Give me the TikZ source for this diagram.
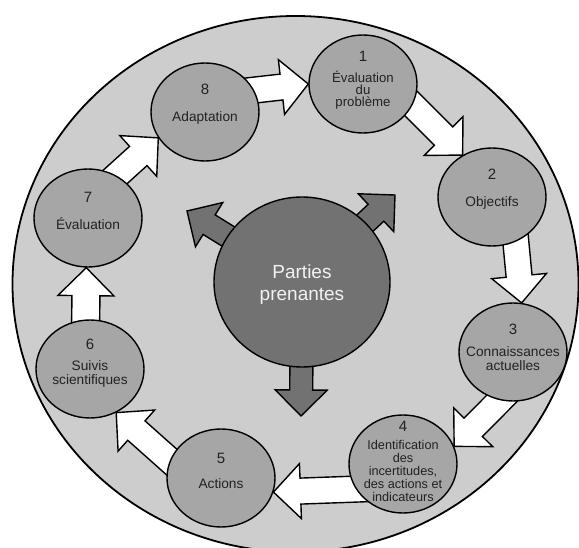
\documentclass[tikz,border=0pt]{standalone}
\usepackage{fontspec}
\setmainfont{Liberation Sans}
\usetikzlibrary{shapes.geometric,calc}
\definecolor{bgfill}{HTML}{CDCDCD}
\definecolor{stepfill}{HTML}{A6A6A6}
\definecolor{hubfill}{HTML}{727272}
\definecolor{inktext}{HTML}{222222}
\pgfdeclarelayer{backdrop}
\pgfdeclarelayer{arrows}
\pgfsetlayers{backdrop,arrows,main}
% #1 style, #2 from, #3 to, #4 half shaft, #5 half head, #6 head length
\newcommand\blockarrow[6]{%
  \path (#2) coordinate (baS) (#3) coordinate (baE);
  \path ($(baS)!-30pt!(baE)$) coordinate (baT) ($(baE)!#6!(baS)$) coordinate (baN);
  \draw[#1] ($(baT)!#4!90:(baE)$) -- ($(baN)!#4!90:(baE)$) -- ($(baN)!#5!90:(baE)$)
    -- (baE) -- ($(baN)!#5!-90:(baE)$) -- ($(baN)!#4!-90:(baE)$)
    -- ($(baT)!#4!-90:(baE)$) -- cycle;}
\begin{document}
\begin{tikzpicture}[x=1pt,y=-1pt,
  stepnode/.style={ellipse, draw=black, line width=1.4pt, fill=stepfill,
    minimum width=108pt, minimum height=98pt, inner sep=0pt},
  numtext/.style={font=\fontsize{15}{15}\selectfont, text=inktext, inner sep=0pt},
  lbltext/.style={font=\fontsize{13.7}{12.5}\selectfont, align=center, text=inktext, inner sep=0pt},
  whitearrow/.style={draw=black, line width=1.4pt, fill=white, line join=miter},
  hubarrow/.style={draw=black, line width=1.4pt, fill=hubfill, line join=miter}]
\useasboundingbox (0,0) rectangle (579,548);
\begin{pgfonlayer}{backdrop}
\node[ellipse, draw=black, line width=1.8pt, fill=bgfill, minimum width=566pt,
  minimum height=536pt, inner sep=0pt] (outer) at (295.5,284) {};
\end{pgfonlayer}
% steps
\node[stepnode] (c1) at (363,84) {};
\node[stepnode] (c2) at (492,197) {};
\node[stepnode] (c3) at (513,352) {};
\node[stepnode] (c4) at (403,464) {};
\node[stepnode] (c5) at (221,478) {};
\node[stepnode] (c6) at (90,369) {};
\node[stepnode] (c7) at (88,218) {};
\node[stepnode] (c8) at (205,112) {};
\node[ellipse, draw=black, line width=1.4pt, fill=hubfill, minimum width=176pt,
  minimum height=170pt, inner sep=0pt] (hub) at (302,282) {};
\coordinate (tUL) at (187,211);
\coordinate (tUR) at (395,195);
\coordinate (tD) at (301,416);
\begin{pgfonlayer}{arrows}
\blockarrow{whitearrow}{c8.24}{c1.180}{13pt}{27.5pt}{27pt}
\blockarrow{whitearrow}{c1.-23}{c2.125}{13pt}{27.5pt}{27pt}
\blockarrow{whitearrow}{c2.-62}{c3.80}{13pt}{27.5pt}{27pt}
\blockarrow{whitearrow}{c3.255}{c4.19}{13pt}{27.5pt}{27pt}
\blockarrow{whitearrow}{c4.208}{c5.-15}{13pt}{27.5pt}{27pt}
\blockarrow{whitearrow}{c5.161}{c6.-59}{13pt}{27.5pt}{27pt}
\blockarrow{whitearrow}{c6.95}{c7.-92}{14pt}{28pt}{28pt}
\blockarrow{whitearrow}{c7.56}{c8.209}{13pt}{27.5pt}{27pt}
\blockarrow{hubarrow}{hub}{tUL}{11.5pt}{26pt}{26pt}
\blockarrow{hubarrow}{hub}{tUR}{11.5pt}{26pt}{26pt}
\blockarrow{hubarrow}{hub}{tD}{11.5pt}{26pt}{26pt}
\end{pgfonlayer}
% texts
\node[numtext] (n1) at ($(c1)+(0,-28)$) {1};
\node[lbltext, font=\fontsize{13.2}{12.3}\selectfont] (l1) at ($(c1)+(0,6)$) {Évaluation\\du\\problème};
\node[numtext] (n2) at ($(c2)+(0,-23)$) {2};
\node[lbltext] (l2) at ($(c2)+(0,6)$) {Objectifs};
\node[numtext] (n3) at ($(c3)+(0,-23)$) {3};
\node[lbltext, font=\fontsize{13.7}{14}\selectfont] (l3) at ($(c3)+(0,7)$) {Connaissances\\actuelles};
\node[numtext] (n4) at ($(c4)+(0,-38)$) {4};
\node[lbltext, font=\fontsize{12.7}{13}\selectfont] (l4) at ($(c4)+(0,7)$) {Identification\\des\\incertitudes,\\des actions et\\indicateurs};
\node[numtext] (n5) at ($(c5)+(0,-20)$) {5};
\node[lbltext] (l5) at ($(c5)+(0,6)$) {Actions};
\node[numtext] (n6) at ($(c6)+(0,-25)$) {6};
\node[lbltext, font=\fontsize{13.7}{14}\selectfont] (l6) at ($(c6)+(0,5)$) {Suivis\\scientifiques};
\node[numtext] (n7) at ($(c7)+(0,-21)$) {7};
\node[lbltext] (l7) at ($(c7)+(0,6)$) {Évaluation};
\node[numtext] (n8) at ($(c8)+(0,-23)$) {8};
\node[lbltext] (l8) at ($(c8)+(0,6)$) {Adaptation};
\node[font=\fontsize{19}{22}\selectfont, align=center, text=white!95!black, inner sep=0pt] (hl) at ($(hub)+(0,3)$) {Parties\\prenantes};
\end{tikzpicture}
\end{document}
